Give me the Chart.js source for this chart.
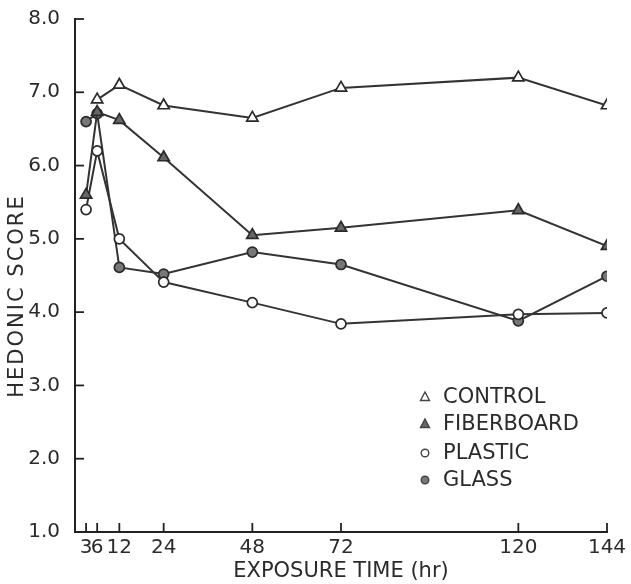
<!DOCTYPE html>
<html>
<head>
<meta charset="utf-8">
<script src="https://cdn.jsdelivr.net/npm/chart.js@4.4.0/dist/chart.umd.min.js"></script>
<style>
  body { margin: 0; background: #fff; }
  canvas { display: block; }
</style>
</head>
<body>
<canvas id="hedonicChart" width="631" height="584"></canvas>
<script>
// hours of exposure and hedonic scores
const hourTicks = [3, 6, 12, 24, 48, 72, 120, 144];
const scoreTicks = [1, 2, 3, 4, 5, 6, 7, 8];

const controlHours = [6, 12, 24, 48, 72, 120, 144];
const controlScores = [6.9, 7.1, 6.82, 6.65, 7.06, 7.2, 6.82];

const fiberHours = [3, 6, 12, 24, 48, 72, 120, 144];
const fiberScores = [5.6, 6.73, 6.62, 6.11, 5.05, 5.15, 5.39, 4.9];

const plasticHours = [3, 6, 12, 24, 48, 72, 120, 144];
const plasticScores = [5.4, 6.2, 5.0, 4.41, 4.13, 3.84, 3.97, 3.99];

const glassHours = [3, 6, 12, 24, 48, 72, 120, 144];
const glassScores = [6.6, 6.71, 4.61, 4.52, 4.82, 4.65, 3.88, 4.49];

const seriesNames = ['CONTROL', 'FIBERBOARD', 'PLASTIC', 'GLASS'];

const ink = '#2b2b2b';
const font = 'DejaVu Sans';

const toPoints = (xs, ys) => xs.map((x, i) => ({ x: x, y: ys[i] }));

const makeSeries = (label, xs, ys, style, fill, radius) => ({
    label,
    data: toPoints(xs, ys),
    borderColor: '#333',
    borderWidth: 2,
    pointStyle: style,
    pointRadius: radius,
    pointBackgroundColor: fill,
    pointBorderColor: '#2a2a2a',
    pointBorderWidth: 1.7,
    tension: 0
});

// inward tick marks, legend and rotated y title
const extras = {
    id: 'extras',
    afterDraw(chart) {
        const ctx = chart.ctx;
        const xs = chart.scales.x;
        const ys = chart.scales.y;
        const area = chart.chartArea;
        ctx.save();
        ctx.strokeStyle = '#222';
        ctx.lineWidth = 1.8;
        hourTicks.forEach(h => {
            const px = xs.getPixelForValue(h);
            ctx.beginPath();
            ctx.moveTo(px, area.bottom);
            ctx.lineTo(px, area.bottom - 9);
            ctx.stroke();
        });
        scoreTicks.forEach(s => {
            const py = ys.getPixelForValue(s);
            ctx.beginPath();
            ctx.moveTo(area.left, py);
            ctx.lineTo(area.left + 9, py);
            ctx.stroke();
        });

        // legend
        const rows = [397, 424, 453, 480];
        chart.data.datasets.forEach((ds, i) => {
            const mx = 425, my = rows[i];
            ctx.beginPath();
            if (ds.pointStyle === 'triangle') {
                ctx.moveTo(mx, my - 5);
                ctx.lineTo(mx + 4.5, my + 3.5);
                ctx.lineTo(mx - 4.5, my + 3.5);
                ctx.closePath();
            } else {
                ctx.arc(mx, my, 3.8, 0, Math.PI * 2);
            }
            ctx.fillStyle = ds.pointBackgroundColor;
            ctx.fill();
            ctx.lineWidth = 1.4;
            ctx.strokeStyle = '#444';
            ctx.stroke();
            ctx.fillStyle = ink;
            ctx.font = `21px "${font}"`;
            ctx.textBaseline = 'middle';
            ctx.textAlign = 'left';
            ctx.fillText(ds.label, 443, my + 1);
        });

        // y axis title
        ctx.translate(18, 296);
        ctx.rotate(-Math.PI / 2);
        ctx.font = `21px "${font}"`;
        if ('letterSpacing' in ctx) ctx.letterSpacing = '2px';
        ctx.textAlign = 'center';
        ctx.textBaseline = 'middle';
        ctx.fillStyle = ink;
        ctx.fillText('HEDONIC SCORE', 0, 0);
        ctx.restore();
    }
};

const ctx = document.getElementById('hedonicChart').getContext('2d');

new Chart(ctx, {
    type: 'line',
    data: {
        datasets: [
            makeSeries(seriesNames[0], controlHours, controlScores, 'triangle', '#fff', 6.5),
            makeSeries(seriesNames[1], fiberHours, fiberScores, 'triangle', '#666', 6.5),
            makeSeries(seriesNames[2], plasticHours, plasticScores, 'circle', '#fff', 5),
            makeSeries(seriesNames[3], glassHours, glassScores, 'circle', '#777', 5)
        ]
    },
    options: {
        responsive: false,
        animation: false,
        layout: { padding: { top: 19, right: 24, left: 0, bottom: 0 } },
        plugins: {
            legend: { display: false },
            tooltip: { enabled: false }
        },
        scales: {
            x: {
                type: 'linear',
                min: 0,
                max: 144,
                afterBuildTicks: scale => {
                    scale.ticks = hourTicks.map(v => ({ value: v }));
                },
                afterFit: scale => { scale.height = 52; },
                grid: { display: false },
                border: { display: true, color: '#222', width: 2 },
                ticks: {
                    autoSkip: false,
                    maxRotation: 0,
                    padding: -4,
                    color: ink,
                    font: { family: font, size: 20 }
                },
                title: {
                    display: true,
                    text: 'EXPOSURE TIME (hr)',
                    color: ink,
                    padding: { top: 0, bottom: 0 },
                    font: { family: font, size: 21 }
                }
            },
            y: {
                min: 1,
                max: 8,
                afterBuildTicks: scale => {
                    scale.ticks = scoreTicks.map(v => ({ value: v }));
                },
                afterFit: scale => { scale.width = 75; },
                grid: { display: false },
                border: { display: true, color: '#222', width: 2 },
                ticks: {
                    padding: 7,
                    color: ink,
                    font: { family: font, size: 20 },
                    callback: v => v.toFixed(1)
                }
            }
        }
    },
    plugins: [extras]
});
</script>
</body>
</html>
